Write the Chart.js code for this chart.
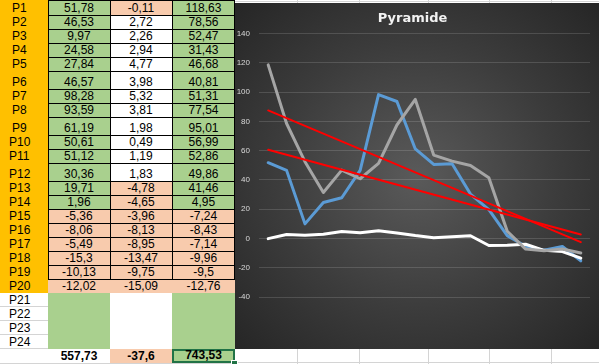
<!DOCTYPE html>
<html><head><meta charset="utf-8">
<script src="https://cdn.jsdelivr.net/npm/chart.js@4/dist/chart.umd.min.js"></script>
<style>
html,body{margin:0;padding:0;background:#fff;width:599px;height:364px;overflow:hidden;font-family:"Liberation Sans",Arial,sans-serif;}
.c{position:absolute;box-sizing:border-box;font-size:12px;color:#000;line-height:12px;display:flex;align-items:flex-end;justify-content:center;padding-bottom:1px;white-space:nowrap;}
.ln{position:absolute;}
#chartbox{position:absolute;left:235px;top:3px;width:364px;height:346px;
  background:radial-gradient(ellipse 70% 70% at 50% 50%, #5a5a5a 0%, #3c3c3c 55%, #262626 100%);}
canvas{display:block;}
</style></head>
<body>
<div id="sheet"></div>
<div id="chartbox"><canvas id="chart" width="364" height="346"></canvas></div>
<script>
// ---- data ----
const rowLabels = ['P1','P2','P3','P4','P5','P6','P7','P8','P9','P10','P11','P12','P13','P14','P15','P16','P17','P18','P19','P20','P21','P22','P23','P24'];
const colA = [51.78, 46.53, 9.97, 24.58, 27.84, 46.57, 98.28, 93.59, 61.19, 50.61, 51.12, 30.36, 19.71, 1.96, -5.36, -8.06, -5.49, -15.3, -10.13, -12.02];
const colB = [-0.11, 2.72, 2.26, 2.94, 4.77, 3.98, 5.32, 3.81, 1.98, 0.49, 1.19, 1.83, -4.78, -4.65, -3.96, -8.13, -8.95, -13.47, -9.75, -15.09];
const colC = [118.63, 78.56, 52.47, 31.43, 46.68, 40.81, 51.31, 77.54, 95.01, 56.99, 52.86, 49.86, 41.46, 4.95, -7.24, -8.43, -7.14, -9.96, -9.5, -12.76];
const totals = ['557,73', '-37,6', '743,53'];
const chartRows = 18;                 // the chart plots P1..P18
const trendA = [60.6, 2.7];           // linear trendline of column A (endpoints)
const trendC = [87.5, -2.5];          // linear trendline of column C
const chartTitle = 'Pyramide';
const yMin = -40, yMax = 140, yStep = 20;

// ---- spreadsheet layout ----
const rowH = [15,14,14,14,14,18,14,14,18,14,14,18,14,14,14,14,14,14,14,14,14,14,14,14];
const colX = [0, 48, 110, 172, 235];
const GREEN = '#a9d08e', SALMON = '#f8cbad', ORANGE = '#ffc000';
const sheet = document.getElementById('sheet');
function el(cls, x, y, w, h, bg, txt, extra) {
  const d = document.createElement('div');
  d.className = cls;
  d.style.left = x + 'px'; d.style.top = y + 'px';
  d.style.width = w + 'px'; d.style.height = h + 'px';
  if (bg) d.style.background = bg;
  if (txt !== undefined) d.textContent = txt;
  if (extra) Object.assign(d.style, extra);
  sheet.appendChild(d);
  return d;
}
const fmt = v => String(v).replace('.', ',');
// sheet gridlines to the right (above / below chart)
[296.7, 358.7, 427.7, 489.3, 551.3].forEach(x => { el('ln', Math.round(x), 0, 1, 364, '#d4d4d4'); });
el('ln', 235, 1, 364, 1, '#d4d4d4');
el('ln', 235, 362, 364, 1, '#d4d4d4');

let y = 0;
const rowTop = [];
for (let r = 0; r < rowLabels.length; r++) {
  rowTop.push(y);
  const h = rowH[r];
  const inData = r < colA.length;
  el('c', 0, y, 48, h, inData ? ORANGE : '#fff', rowLabels[r], {justifyContent:'flex-start', paddingLeft: (rowLabels[r].length > 2 ? 9 : 12) + 'px'});
  if (inData) {
    const vals = [colA[r], colB[r], colC[r]];
    vals.forEach((v, k) => {
      const bg = v < 0 ? SALMON : (k === 1 ? '#fff' : GREEN);
      el('c', colX[k+1], y, colX[k+2] - colX[k+1], h, bg, fmt(v));
    });
  } else {
    el('c', colX[1], y, colX[2]-colX[1], h, GREEN);
    el('c', colX[2], y, colX[3]-colX[2], h, '#fff');
    el('c', colX[3], y, colX[4]-colX[3], h, GREEN);
    el('ln', 0, y + h - 1, 48, 1, '#d4d4d4');
  }
  y += h;
}
rowTop.push(y);
// totals row
el('c', 0, y, 48, 15, '#fff');
el('ln', 0, y + 14, 235, 1, '#d4d4d4');
el('c', colX[1], y, 62, 14, '#fff', totals[0], {fontWeight:'bold'});
el('c', colX[2], y, 62, 14, SALMON, totals[1], {fontWeight:'bold'});
el('c', colX[3], y, 63, 14, GREEN, totals[2], {fontWeight:'bold', border:'2px solid #217346', paddingBottom:'0px'});
el('ln', 231, y + 11, 5, 5, '#217346', undefined, {border:'1px solid #fff'});
// black borders P1..P19
const blackBottom = rowTop[19];
[48, 110, 172, 234].forEach(x => el('ln', x, 0, 1, blackBottom + 1, '#000'));
for (let r = 0; r <= 19; r++) el('ln', 48, rowTop[r] === 0 ? 0 : rowTop[r], 187, 1, '#000');

// ---- chart ----
const labels = rowLabels.slice(0, chartRows);
const trendData = ends => labels.map((_, i) => i === 0 ? ends[0] : (i === labels.length - 1 ? ends[1] : null));
new Chart(document.getElementById('chart'), {
  type: 'line',
  data: {
    labels,
    datasets: [
      {label:'Linéaire (C)', data: trendData(trendC), borderColor:'#ff0000', borderWidth:2, spanGaps:true, order:0},
      {label:'Linéaire (A)', data: trendData(trendA), borderColor:'#ff0000', borderWidth:2, spanGaps:true, order:1},
      {label:'C', data: colC.slice(0, chartRows), borderColor:'#a5a5a5', borderWidth:3, order:2},
      {label:'B', data: colB.slice(0, chartRows), borderColor:'#ffffff', borderWidth:3, order:3},
      {label:'A', data: colA.slice(0, chartRows), borderColor:'#5b9bd5', borderWidth:3, order:4}
    ]
  },
  options: {
    responsive:false, animation:false, devicePixelRatio:1,
    elements:{point:{radius:0, hoverRadius:0}, line:{tension:0, borderCapStyle:'round', borderJoinStyle:'round', fill:false}},
    layout:{padding:{left:0, right:9, top:0, bottom:52}},
    plugins:{
      legend:{display:false}, tooltip:{enabled:false},
      title:{display:true, text:chartTitle, color:'#f2f2f2', font:{family:'DejaVu Sans', size:13, weight:'bold'}, padding:{top:8, bottom:7}}
    },
    scales:{
      x:{display:false, offset:true},
      y:{min:yMin, max:yMax,
         ticks:{stepSize:yStep, color:'#d9d9d9', font:{family:'Liberation Sans', size:8}, padding:9},
         grid:{color:'rgba(255,255,255,0.14)', drawTicks:false},
         border:{display:false},
         afterFit(s){ s.width = 24; }}
    }
  }
});
</script>
</body></html>
